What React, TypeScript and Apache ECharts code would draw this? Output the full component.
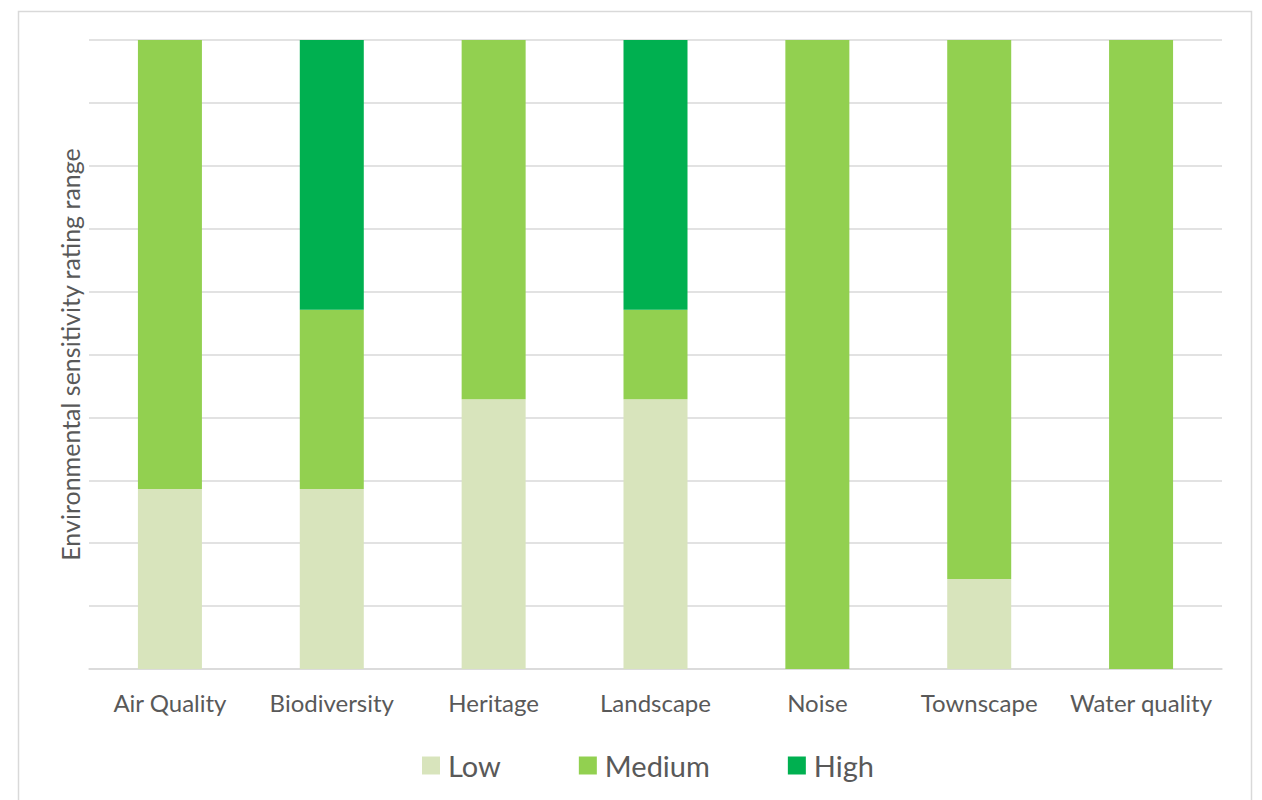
import React, { useEffect, useRef } from "react";
import * as echarts from "echarts";

// Share of each sensitivity rating per topic (percent of assessed items)
const categories = [
  "Air Quality",
  "Biodiversity",
  "Heritage",
  "Landscape",
  "Noise",
  "Townscape",
  "Water quality",
];
const lowValues = [28.6, 28.6, 42.9, 42.9, 0, 14.3, 0];
const mediumValues = [71.4, 28.5, 57.1, 14.2, 100, 85.7, 100];
const highValues = [0, 42.9, 0, 42.9, 0, 0, 0];

const seriesNames = ["Low", "Medium", "High"];
const seriesColors = ["#d8e4bc", "#92d050", "#00b050"];

const FONT = "Lato, 'Open Sans', sans-serif";
const TEXT_COLOR = "#595959";
const GRID_COLOR = "#d9d9d9";

export default function App() {
  const ref = useRef<HTMLDivElement>(null);

  useEffect(() => {
    if (!ref.current) return;
    const chart = echarts.init(ref.current, undefined, { renderer: "svg" });
    const values = [lowValues, mediumValues, highValues];

    chart.setOption({
      animation: false,
      backgroundColor: "#ffffff",
      textStyle: { fontFamily: FONT },
      graphic: [
        {
          type: "rect",
          shape: { x: 18.5, y: 11.5, width: 1233, height: 820 },
          style: { fill: "none", stroke: GRID_COLOR, lineWidth: 1.5 },
          silent: true,
        },
      ],
      grid: { left: 89, right: 40, top: 40, bottom: 131 },
      legend: {
        left: 417,
        top: 746,
        itemWidth: 18,
        itemHeight: 18,
        itemGap: 78,
        icon: "rect",
        textStyle: { fontFamily: FONT, fontSize: 29, color: TEXT_COLOR, padding: [0, 0, 0, 3] },
        data: seriesNames,
      },
      xAxis: {
        type: "category",
        data: categories,
        axisLine: { show: true, lineStyle: { color: GRID_COLOR, width: 1.5 } },
        axisTick: { show: false },
        axisLabel: {
          interval: 0,
          color: TEXT_COLOR,
          fontFamily: FONT,
          fontSize: 24,
          margin: 21,
        },
      },
      yAxis: {
        type: "value",
        min: 0,
        max: 100,
        interval: 10,
        name: "Environmental sensitivity rating range",
        nameLocation: "middle",
        nameGap: 7,
        nameTextStyle: { color: TEXT_COLOR, fontFamily: FONT, fontSize: 25 },
        axisLabel: { show: false },
        axisLine: { show: false },
        axisTick: { show: false },
        splitLine: { lineStyle: { color: GRID_COLOR, width: 1.5 } },
      },
      series: seriesNames.map((name, i) => ({
        name,
        type: "bar",
        stack: "rating",
        barWidth: 64,
        itemStyle: { color: seriesColors[i] },
        data: values[i],
      })),
    });

    return () => chart.dispose();
  }, []);

  return (
    <div
      ref={ref}
      style={{ position: "fixed", left: 0, top: 0, width: 1262, height: 800 }}
    />
  );
}
